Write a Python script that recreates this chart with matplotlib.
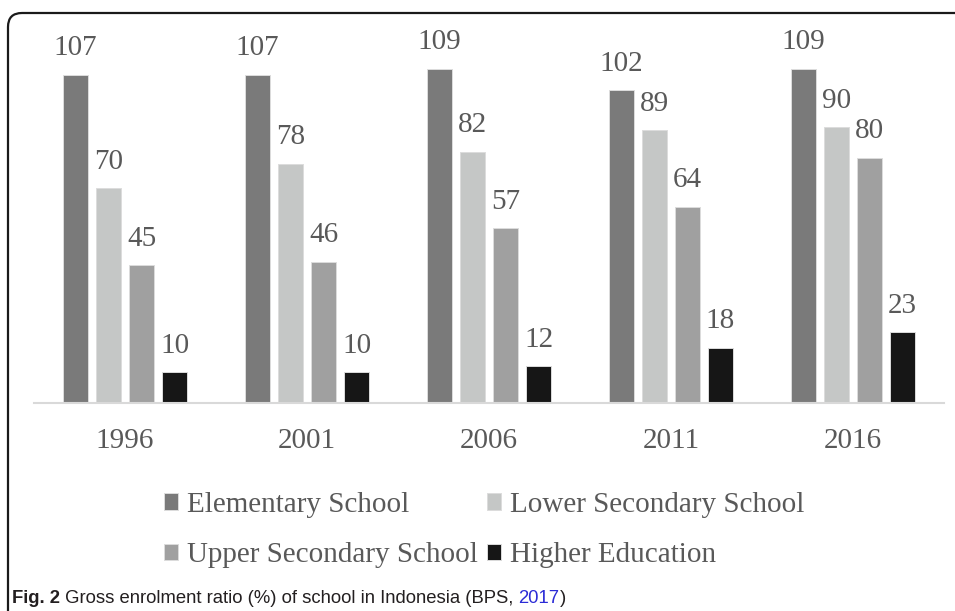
import matplotlib.pyplot as plt
import numpy as np
from matplotlib.patches import FancyBboxPatch
from matplotlib.transforms import IdentityTransform

years = ['1996', '2001', '2006', '2011', '2016']
series_names = ['Elementary School', 'Lower Secondary School',
                'Upper Secondary School', 'Higher Education']
elementary = [107, 107, 109, 102, 109]
lower_secondary = [70, 78, 82, 89, 90]
upper_secondary = [45, 46, 57, 64, 80]
higher_edu = [10, 10, 12, 18, 23]
colors = ['#7a7a7a', '#c5c7c6', '#a0a0a0', '#161616']

label_color = '#595959'
serif = 'Liberation Serif'

fig = plt.figure(figsize=(9.55, 6.11), dpi=100)
ax = fig.add_axes([34 / 955, 208 / 611, 910 / 955, 368 / 611])

x = np.arange(len(years))
pitch = 33 / 182   # bar spacing in category units
width = 25 / 182
all_series = [elementary, lower_secondary, upper_secondary, higher_edu]

bars = []
for i, (vals, name, col) in enumerate(zip(all_series, series_names, colors)):
    xs = x + (i - 1.5) * pitch
    b = ax.bar(xs, vals, width=width, color=col, edgecolor='#dcdcdc',
               linewidth=0.7, label=name)
    bars.append(b)
    for xi, v in zip(xs, vals):
        ax.annotate(str(v), (xi, v), xytext=(0, 14), textcoords='offset points',
                    ha='center', va='baseline', fontsize=21, family=serif,
                    color=label_color)

ax.set_xlim(-0.5, len(years) - 0.5)
ax.set_ylim(0, 120)
ax.set_xticks(x)
ax.set_xticklabels(years, fontsize=21, family=serif, color=label_color)
ax.tick_params(axis='x', length=0, pad=18)
ax.set_yticks([])
for s in ['top', 'left', 'right']:
    ax.spines[s].set_visible(False)
ax.spines['bottom'].set_color('#d9d9d9')
ax.spines['bottom'].set_linewidth(1.5)

# legend filled row by row: Elementary, Lower / Upper, Higher
order = [0, 2, 1, 3]
leg = ax.legend([bars[k] for k in order], [series_names[k] for k in order],
                loc='center', bbox_to_anchor=(484 / 955, 1 - 530 / 611),
                bbox_transform=fig.transFigure, ncol=2, frameon=False,
                prop={'family': serif, 'size': 21},
                handlelength=0.5, handleheight=0.5, handletextpad=0.3,
                columnspacing=0.3, labelspacing=0.85, borderpad=0)
for t in leg.get_texts():
    t.set_color(label_color)

# rounded frame around the figure, cut at right and bottom
frame = FancyBboxPatch((8, -60), 1100, 611 - 13 + 60,
                       boxstyle='round,pad=0,rounding_size=14',
                       transform=IdentityTransform(), fill=False,
                       edgecolor='#1a1a1a', linewidth=1.6)
fig.add_artist(frame)

# caption
cap_y = 1 - 603 / 611
cap_size = 13.3
t1 = fig.text(12 / 955, cap_y, 'Fig. 2', fontsize=cap_size, fontweight='bold',
              family='Liberation Sans', color='#231f20', va='baseline')
t2 = ax.annotate(' Gross enrolment ratio (%) of school in Indonesia (BPS, ',
                 xy=(1, 0), xycoords=t1, va='bottom', fontsize=cap_size,
                 family='Liberation Sans', color='#231f20',
                 annotation_clip=False)
t3 = ax.annotate('2017', xy=(1, 0), xycoords=t2, va='bottom', fontsize=cap_size,
                 family='Liberation Sans', color='#2b2bd6',
                 annotation_clip=False)
ax.annotate(')', xy=(1, 0), xycoords=t3, va='bottom', fontsize=cap_size,
            family='Liberation Sans', color='#231f20', annotation_clip=False)

fig.savefig('out.png', dpi=100)
